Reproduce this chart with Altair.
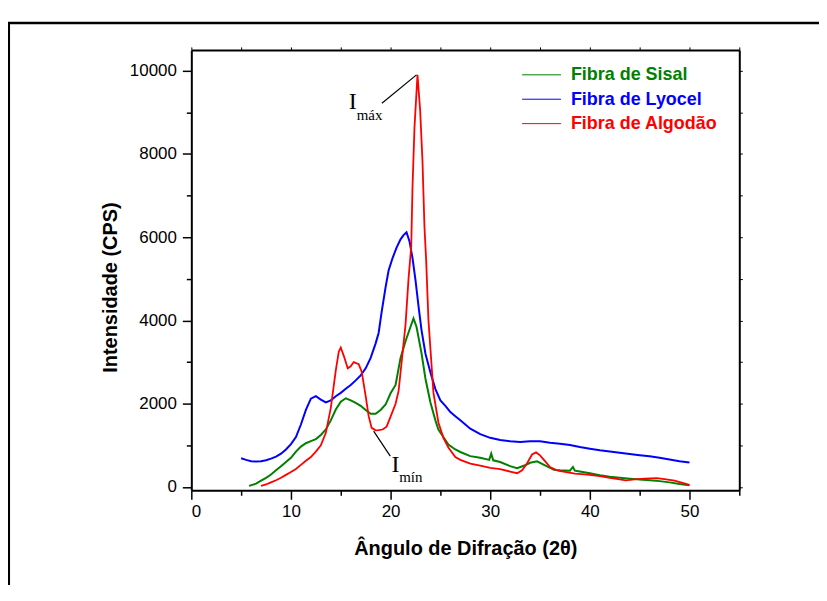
import altair as alt
import pandas as pd

# ---------------- data ----------------
series_names = ["Fibra de Sisal", "Fibra de Lyocel", "Fibra de Algodão"]
series_colors = ["#008000", "#0000ff", "#ff0000"]

lyocel_x = [5.0, 5.5, 6.0, 6.5, 7.0, 7.5, 8.0, 8.5, 9.0, 9.5, 10.0, 10.5, 11.0, 11.5, 12.0, 12.5,
            13.0, 13.5, 14.0, 14.5, 15.0, 15.5, 16.0, 16.5, 17.0, 17.5, 18.0, 18.5,
            18.8, 19.1, 19.5, 19.8, 20.2, 20.6, 21.0, 21.3, 21.6, 21.9, 22.2, 22.5, 22.8, 23.1, 23.5,
            24.0, 24.5, 25.0, 25.5, 26.0, 26.5, 27.0,
            28.0, 29.0, 30.0, 31.0, 32.0, 33.0, 34.0, 35.0, 36.0, 37.0, 38.0, 39.0, 40.0, 41.0,
            42.0, 43.0, 44.0, 45.0, 46.0, 47.0, 48.0, 49.0, 50.0]
lyocel_y = [690, 650, 620, 610, 620, 640, 680, 730, 800, 900, 1030, 1200, 1500, 1850, 2120, 2180,
            2100, 2030, 2080, 2180, 2260, 2360, 2450, 2560, 2680, 2850, 3100, 3450,
            3700, 4200, 4800, 5200, 5500, 5750, 5950, 6050, 6120, 5900, 5500, 4970, 4350, 3775, 3200,
            2750, 2350, 2080, 1950, 1800, 1700, 1600,
            1400, 1270, 1180, 1130, 1100, 1080, 1100, 1100, 1060, 1040, 1010, 960, 920, 880,
            850, 820, 790, 760, 735, 700, 660, 620, 590]

sisal_x = [5.8, 6.5, 7.0, 7.5, 8.0, 8.5, 9.0, 9.5, 10.0, 10.5, 11.0, 11.5, 12.0, 12.5, 13.0, 13.5,
           14.0, 14.5, 15.0, 15.5, 16.0, 16.5, 17.0, 17.5, 18.0, 18.5, 19.0, 19.5, 20.0, 20.5,
           21.0, 21.5, 22.0, 22.3, 22.6, 23.1, 23.5, 24.0, 24.5, 24.8, 25.3, 25.8, 26.5, 27.0,
           28.0, 29.0, 29.9, 30.1, 30.3, 31.0, 32.0, 32.7, 33.5, 34.0, 34.7, 35.5, 36.4, 37.0,
           38.0, 38.3, 38.5, 39.0, 40.0, 41.0, 42.0, 43.0, 44.0, 45.0, 46.0, 47.0, 48.0, 49.0, 50.0]
sisal_y = [25, 80, 150, 220, 300, 400, 500, 600, 700, 850, 970, 1050, 1100, 1150, 1250, 1380,
           1600, 1860, 2050, 2130, 2080, 2020, 1950, 1850, 1760, 1760, 1850, 1980, 2250, 2450,
           3100, 3500, 3850, 4050, 3850, 3220, 2600, 2030, 1600, 1380, 1200, 1020, 900, 840,
           740, 700, 650, 800, 640, 600, 500, 450, 520, 580, 615, 520, 410, 400,
           390, 480, 390, 370, 330, 280, 245, 220, 200, 180, 160, 140, 110, 70, 40]

algodao_x = [7.0, 7.5, 8.0, 8.5, 9.0, 9.5, 10.0, 10.5, 11.0, 11.5, 12.0, 12.5, 13.0, 13.5, 14.0, 14.5,
             14.8, 15.0, 15.3, 15.7, 16.0, 16.3, 16.8, 17.1, 17.5, 17.8, 18.1, 18.5, 18.8, 19.2,
             19.6, 20.1, 20.5, 20.8, 21.1, 21.5, 21.8,
             22.07, 22.2, 22.4, 22.7, 22.97, 23.2, 23.4, 23.57, 23.8,
             24.3, 24.8, 25.3, 25.8, 26.5, 27.0, 28.0, 29.0, 30.0, 31.0, 32.0,
             32.7, 33.2, 33.7, 34.2, 34.6, 35.0, 35.5, 36.0, 36.8, 37.5, 38.5, 39.5, 40.2,
             41.0, 42.0, 43.0, 43.6, 44.5, 45.5, 46.7, 47.5, 48.5, 49.3, 50.0]
algodao_y = [25, 60, 110, 160, 220, 290, 360, 430, 530, 630, 720, 850, 1000, 1300, 1900, 2800,
             3250, 3350, 3150, 2850, 2900, 3000, 2950, 2770, 2180, 1700, 1420, 1360, 1365, 1380,
             1450, 1750, 2000, 2300, 2980, 3900, 5000,
             5770, 7200, 8640, 9900, 9040, 7845, 6250, 5450, 4015,
             2265, 1550, 1180, 950, 720, 650, 560, 510, 460, 430, 370,
             330, 400, 570, 780, 830, 760, 620, 480, 390, 360, 320, 300, 285,
             260, 220, 180, 160, 180, 200, 210, 190, 150, 100, 50]

x_ticks = list(range(0, 56, 5))
y_ticks = list(range(0, 10001, 1000))

# annotations (data coordinates)
ann_rule_x = [19.13, 18.3]
ann_rule_y = [9217, 1340]
ann_rule_x2 = [22.6, 19.97]
ann_rule_y2 = [9900, 740]
ann_big_x = [15.8, 20.1]
ann_big_y = [9087, 352]
ann_big_text = ["I", "I"]
ann_sub_x = [16.6, 20.87]
ann_sub_y = [8827, 112]
ann_sub_text = ["máx", "mín"]

# ---------------- build tables ----------------
frames = []
for name, xs, ys in [("Fibra de Sisal", sisal_x, sisal_y),
                     ("Fibra de Lyocel", lyocel_x, lyocel_y),
                     ("Fibra de Algodão", algodao_x, algodao_y)]:
    assert len(xs) == len(ys), name
    frames.append(pd.DataFrame({"angle": xs, "cps": ys, "series": name}))
df = pd.concat(frames, ignore_index=True)

rules_df = pd.DataFrame({"x": ann_rule_x, "y": ann_rule_y, "x2": ann_rule_x2, "y2": ann_rule_y2})
big_df = pd.DataFrame({"x": ann_big_x, "y": ann_big_y, "t": ann_big_text})
sub_df = pd.DataFrame({"x": ann_sub_x, "y": ann_sub_y, "t": ann_sub_text})
one = pd.DataFrame({"k": [0]})

SANS = "Liberation Sans"
SERIF = "Liberation Serif"

xscale = alt.Scale(domain=[0, 55], nice=False, zero=False)
yscale = alt.Scale(domain=[-80, 10500], nice=False, zero=False)
cscale = alt.Scale(domain=series_names, range=series_colors)

x_axis = alt.Axis(
    values=x_ticks, format="d",
    labelExpr="datum.value % 10 === 0 ? datum.label : ''",
    tickSize={"condition": {"test": "datum.value % 10 !== 0", "value": 5}, "value": 9},
    grid=False, domainColor="black", domainWidth=2, tickColor="black", tickWidth=1.5,
    labelFont=SANS, labelFontSize=17, labelColor="black", labelPadding=4,
    title="Ângulo de Difração (2θ)", titleFont=SANS, titleFontSize=20, titleFontWeight="bold",
    titleColor="black", titleY=64, titleBaseline="alphabetic",
)
y_axis = alt.Axis(
    values=y_ticks, format="d",
    labelExpr="datum.value % 2000 === 0 ? datum.label : ''",
    tickSize={"condition": {"test": "datum.value % 2000 !== 0", "value": 5}, "value": 9},
    grid=False, domainColor="black", domainWidth=2, tickColor="black", tickWidth=1.5,
    labelFont=SANS, labelFontSize=17, labelColor="black", labelPadding=6,
    title="Intensidade (CPS)", titleFont=SANS, titleFontSize=20, titleFontWeight="bold",
    titleColor="black", titleX=-81, titleY=238, titleBaseline="middle",
)
top_axis = alt.Axis(orient="top", values=x_ticks, labels=False, tickSize=3, title=None,
                    grid=False, domainColor="black", domainWidth=2, tickColor="black", tickWidth=1)
right_axis = alt.Axis(orient="right", values=y_ticks, labels=False, tickSize=3, title=None,
                      grid=False, domainColor="black", domainWidth=2, tickColor="black", tickWidth=1)

base = alt.Chart(df)
layers = []

# outer frame (decorative)
layers.append(
    alt.Chart(one).mark_rect(fillOpacity=0, stroke="black", strokeWidth=2.7).encode(
        x=alt.value(-183.3), y=alt.value(-27), x2=alt.value(720), y2=alt.value(650)
    )
)

draw_order = ["Fibra de Lyocel", "Fibra de Sisal", "Fibra de Algodão"]
widths = {"Fibra de Lyocel": 2.0, "Fibra de Sisal": 2.0, "Fibra de Algodão": 1.8}
for i, name in enumerate(draw_order):
    layers.append(
        base.transform_filter(alt.datum.series == name).mark_line(strokeWidth=widths[name]).encode(
            x=alt.X("angle:Q", scale=xscale, axis=x_axis if i == 0 else None),
            y=alt.Y("cps:Q", scale=yscale, axis=y_axis if i == 0 else None),
            color=alt.Color("series:N", scale=cscale, legend=None),
        )
    )

# annotation leader lines, also carrying the top / right axes
layers.append(
    alt.Chart(rules_df).mark_rule(color="black", strokeWidth=1.2).encode(
        x=alt.X("x:Q", scale=xscale, axis=top_axis),
        y=alt.Y("y:Q", scale=yscale, axis=right_axis),
        x2="x2:Q", y2="y2:Q",
    )
)
layers.append(
    alt.Chart(big_df).mark_text(font=SERIF, fontSize=24, align="left", baseline="alphabetic",
                                color="black").encode(
        x=alt.X("x:Q", scale=xscale, axis=None),
        y=alt.Y("y:Q", scale=yscale, axis=None),
        text="t:N",
    )
)
layers.append(
    alt.Chart(sub_df).mark_text(font=SERIF, fontSize=15, align="left", baseline="alphabetic",
                                color="black").encode(
        x=alt.X("x:Q", scale=xscale, axis=None),
        y=alt.Y("y:Q", scale=yscale, axis=None),
        text="t:N",
    )
)

# manual legend with coloured labels
for i, (name, col) in enumerate(zip(series_names, series_colors)):
    ypix = 25 + i * 24.5
    layers.append(
        alt.Chart(one).mark_rule(color=col, strokeWidth=1).encode(
            x=alt.value(332), x2=alt.value(371), y=alt.value(ypix)
        )
    )
    layers.append(
        alt.Chart(one).mark_text(text=name, color=col, font=SANS, fontSize=18, fontWeight="bold",
                                 align="left", baseline="middle").encode(
            x=alt.value(381), y=alt.value(ypix + 0.5)
        )
    )

chart = alt.layer(*layers).resolve_axis(x="independent", y="independent").properties(
    width=550, height=442,
    padding={"left": 184, "top": 41, "right": 80, "bottom": 94},
    autosize=alt.AutoSizeParams(type="none"),
    background="white",
).configure_view(stroke=None)

chart.save("out.html", embed_options={"renderer": "svg", "actions": False})
